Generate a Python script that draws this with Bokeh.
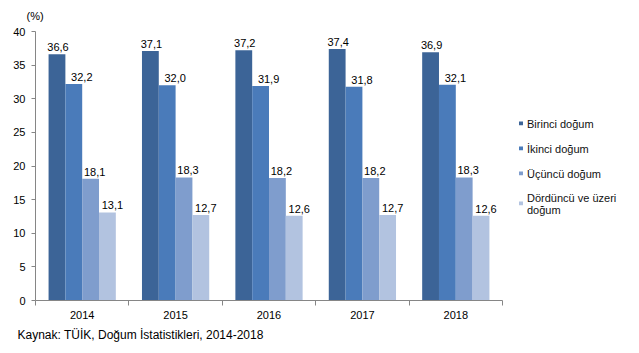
import numpy as np
from bokeh.plotting import figure
from bokeh.models import (ColumnDataSource, FixedTicker, Legend, LegendItem, Title, Range1d)
from bokeh.core.properties import value
from bokeh.embed import file_html
from bokeh.resources import INLINE

years = ["2014", "2015", "2016", "2017", "2018"]
series_names = ["Birinci doğum", "İkinci doğum", "Üçüncü doğum", "Dördüncü ve üzeri\ndoğum"]
birinci = [36.6, 37.1, 37.2, 37.4, 36.9]
ikinci = [32.2, 32.0, 31.9, 31.8, 32.1]
ucuncu = [18.1, 18.3, 18.2, 18.2, 18.3]
dorduncu = [13.1, 12.7, 12.6, 12.7, 12.6]
series = [birinci, ikinci, ucuncu, dorduncu]
colors = ["#3C6497", "#4A7BBA", "#7F9DCD", "#B2C3E0"]
label_shift = [1, 8, 4, 5]  # horizontal label nudges (px), as in the reference
y_ticks = [0, 5, 10, 15, 20, 25, 30, 35, 40]

FONT = "Liberation Sans"

p = figure(frame_width=467, frame_height=269, output_backend="svg", toolbar_location=None,
           x_range=Range1d(0, len(years)), y_range=Range1d(0, 40),
           min_border_left=35, min_border_right=130, min_border_top=31, min_border_bottom=53)
p.outline_line_color = None
p.grid.visible = False
p.background_fill_color = "white"
p.border_fill_color = "white"

bw = 0.18
offsets = [-1.5 * bw, -0.5 * bw, 0.5 * bw, 1.5 * bw]
centers = np.arange(len(years)) + 0.5
renderers = []
for vals, off, col, sh in zip(series, offsets, colors, label_shift):
    src = ColumnDataSource(dict(x=centers + off, top=vals,
                                lab=[f"{v:.1f}".replace(".", ",") for v in vals]))
    r = p.vbar(x="x", top="top", width=bw, source=src, fill_color=col, line_color=None)
    renderers.append(r)
    p.text(x="x", y="top", text="lab", source=src, text_align="center",
           text_baseline="alphabetic", x_offset=sh, y_offset=-7,
           text_font_size="11px", text_color="#000000", text_font=value(FONT))

# axes
xa = p.xaxis[0]
xa.ticker = FixedTicker(ticks=list(centers), minor_ticks=list(range(len(years) + 1)))
xa.major_label_overrides = {float(c): y for c, y in zip(centers, years)}
xa.major_tick_out = 0
xa.major_tick_in = 0
xa.minor_tick_out = 5
xa.minor_tick_in = 0
xa.minor_tick_line_color = "#868686"
xa.axis_line_color = "#868686"
xa.major_label_text_font_size = "11px"
xa.major_label_text_font = FONT
xa.major_label_text_color = "#000000"
xa.major_label_standoff = 5

ya = p.yaxis[0]
ya.ticker = FixedTicker(ticks=y_ticks)
ya.major_tick_out = 4
ya.major_tick_in = 0
ya.minor_tick_out = 0
ya.minor_tick_in = 0
ya.major_tick_line_color = "#868686"
ya.axis_line_color = "#868686"
ya.major_label_text_font_size = "11px"
ya.major_label_text_font = FONT
ya.major_label_text_color = "#000000"
ya.major_label_standoff = 6

legend = Legend(items=[LegendItem(label=n, renderers=[r]) for n, r in zip(series_names, renderers)],
                location="center_left", orientation="vertical",
                glyph_width=5, glyph_height=5, label_standoff=4, spacing=11,
                label_text_font_size="11px", label_text_font=FONT, label_text_color="#111111",
                label_height=14, border_line_color=None, background_fill_alpha=0,
                padding=0, margin=16)
p.add_layout(legend, "right")

p.add_layout(Title(text="(%)", align="left", offset=-9, standoff=17, vertical_align="middle",
                   text_font_size="11px", text_font=FONT, text_font_style="normal",
                   text_color="#000000"), "above")
p.add_layout(Title(text="Kaynak: TÜİK, Doğum İstatistikleri, 2014-2018", align="left", offset=-18,
                   standoff=8, text_font_size="12px", text_font=FONT, text_font_style="normal",
                   text_color="#000000"), "below")

open("out.html", "w").write(file_html(p, INLINE))
